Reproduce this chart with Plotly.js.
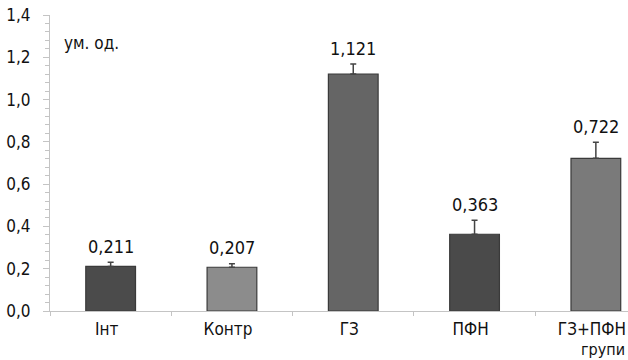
<!DOCTYPE html>
<html>
<head>
<meta charset="utf-8">
<script src="https://cdn.plot.ly/plotly-3.0.1.min.js"></script>
<style>html,body{margin:0;padding:0;background:#fff;}#chart{width:628px;height:360px;}</style>
</head>
<body>
<div id="chart"></div>
<script>
const categories = ["Інт", "Контр", "ГЗ", "ПФН", "ГЗ+ПФН"];
const values = [0.211, 0.207, 1.121, 0.363, 0.722];
const errors = [0.02, 0.017, 0.047, 0.066, 0.076];
const barColors = ["#4b4b4b", "#8c8c8c", "#656565", "#4a4a4a", "#7a7a7a"];
const yTickVals = [0, 0.2, 0.4, 0.6, 0.8, 1.0, 1.2, 1.4];
const yUnit = "ум. од.";
const xUnit = "групи";

const FONT = '"DejaVu Sans Condensed", "Liberation Sans Narrow", "Arial Narrow", sans-serif';

const trace = {
  type: "bar",
  x: categories,
  y: values,
  width: 0.41,
  marker: { color: barColors, line: { color: "#3a3a3a", width: 1.2 } },
  error_y: {
    type: "data", symmetric: false, array: errors,
    arrayminus: errors.map(() => 0),
    color: "#444", thickness: 1.5, width: 3
  },
  hoverinfo: "none"
};

const annotations = categories.map((c, i) => ({
  x: c, y: values[i] + errors[i], xref: "x", yref: "y",
  text: values[i].toFixed(3).replace(".", ","),
  showarrow: false, yanchor: "middle", yshift: 16,
  font: { family: FONT, size: 18, color: "#111" }
}));
annotations.push({
  x: (62 - 50) / 578, y: (311 - 43) / 296, xref: "paper", yref: "paper",
  text: yUnit, showarrow: false, xanchor: "left", yanchor: "middle",
  font: { family: FONT, size: 17, color: "#111" }
});
annotations.push({
  x: 1, y: 0, xref: "paper", yref: "paper", text: xUnit, showarrow: false,
  xanchor: "right", yanchor: "top", yshift: -27, xshift: -1,
  font: { family: FONT, size: 16, color: "#111" }
});

const layout = {
  width: 628, height: 360,
  margin: { l: 50, r: 0, t: 15, b: 49, pad: 0 },
  paper_bgcolor: "#fff", plot_bgcolor: "#fff",
  separators: ", ",
  showlegend: false,
  font: { family: FONT, size: 17, color: "#111" },
  xaxis: {
    type: "category", range: [-0.5, 4.265],
    showline: true, linecolor: "#c4c4c4", linewidth: 1,
    ticks: "outside", tickson: "boundaries", ticklen: 4, tickcolor: "#c4c4c4",
    showgrid: false, zeroline: false,
    ticklabelshift: -4, ticklabelstandoff: 3,
    tickfont: { family: FONT, size: 17, color: "#111" }
  },
  yaxis: {
    range: [0, 1.4], tickvals: yTickVals, tickformat: ".1f",
    showline: true, linecolor: "#c4c4c4", linewidth: 1,
    ticks: "outside", ticklen: 6, tickcolor: "#c4c4c4",
    minor: { dtick: 0.04, ticks: "outside", ticklen: 4, tickcolor: "#c4c4c4", showgrid: false },
    showgrid: false, zeroline: false, ticklabelstandoff: 9,
    tickfont: { family: FONT, size: 17, color: "#111" }
  },
  annotations: annotations
};

Plotly.newPlot("chart", [trace], layout, { staticPlot: true, displayModeBar: false });
</script>
</body>
</html>
